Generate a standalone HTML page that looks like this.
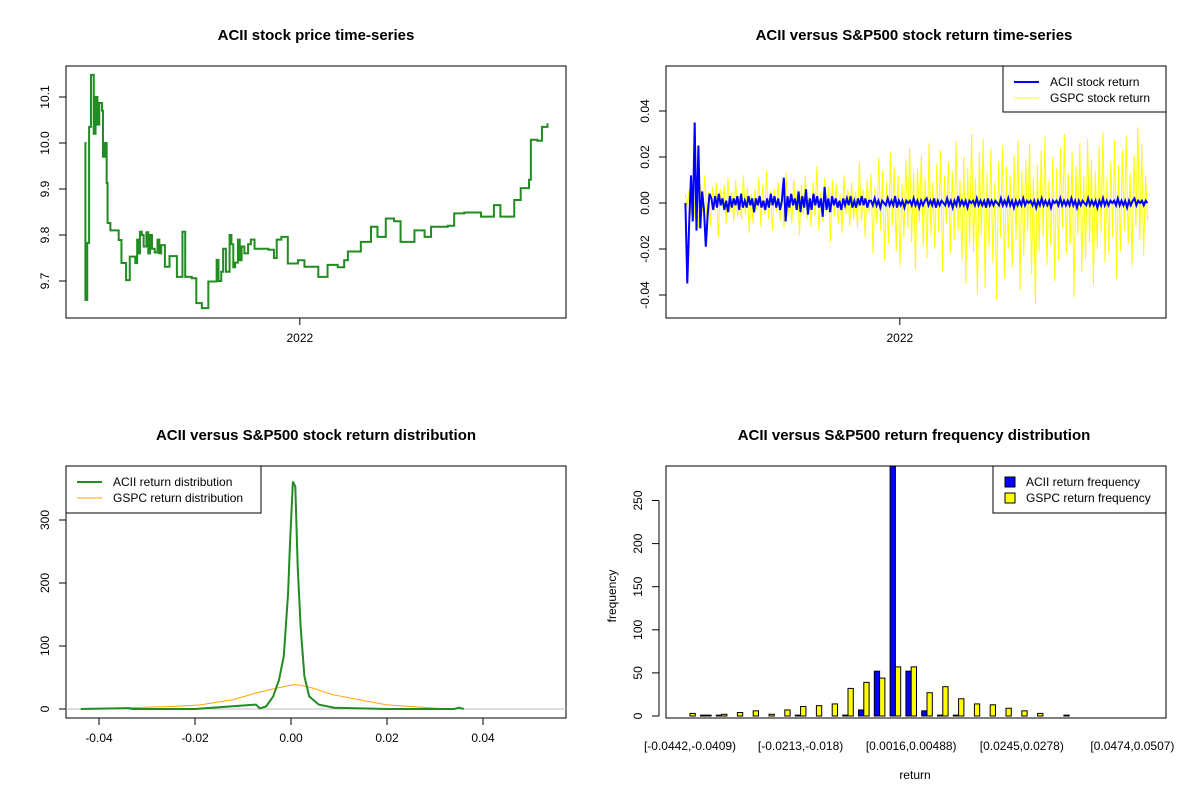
<!DOCTYPE html>
<html><head><meta charset="utf-8"><style>
body{margin:0;background:#fff}
svg{display:block;font-family:"Liberation Sans",Arial,sans-serif}
</style></head><body>
<svg id="c" width="1200" height="800" viewBox="0 0 1200 800" xmlns="http://www.w3.org/2000/svg"></svg>
<script>
// ---- Panel 1: price ----
const priceDays=[0,1,3,5,7,10,12,14,16,19,20,22,24,25,28,30,37,40,45,49,55,57,59,60,62,64,67,69,71,73,76,79,81,83,87,92,100,106,109,116,121,127,134,143,145,148,150,153,157,159,161,163,166,168,170,173,177,180,184,190,199,205,208,213,220,231,238,253,263,274,281,285,299,310,317,326,335,342,357,368,375,393,400,411,429,443,450,465,472,481,483,490,495,501];
const priceVals=[10.0,9.659,9.783,10.035,10.148,10.02,10.1,10.04,10.087,10.07,9.97,10.0,9.913,9.826,9.81,9.81,9.789,9.739,9.702,9.753,9.739,9.79,9.76,9.807,9.80,9.775,9.806,9.76,9.80,9.77,9.762,9.79,9.76,9.778,9.731,9.754,9.709,9.807,9.709,9.706,9.652,9.641,9.699,9.746,9.70,9.72,9.77,9.72,9.80,9.78,9.73,9.74,9.79,9.745,9.775,9.76,9.78,9.79,9.77,9.77,9.768,9.75,9.79,9.796,9.738,9.745,9.731,9.709,9.735,9.73,9.745,9.764,9.785,9.818,9.796,9.836,9.83,9.785,9.81,9.796,9.818,9.82,9.847,9.849,9.84,9.865,9.84,9.876,9.902,9.92,10.007,10.005,10.035,10.043];
const priceTicks=[9.7,9.8,9.9,10.0,10.1];
const priceTickLabels=["9.7","9.8","9.9","10.0","10.1"];
// ---- Panel 2: returns (thousandths) ----
const gspcRet=[4,-2,6,-5,9,-7,3,-11,8,-4,12,-6,5,-10,7,-3,9,-15,6,-2,8,-9,11,-4,5,-8,10,-6,3,-7,
12,-5,7,-13,4,-9,6,-3,11,-10,8,-5,14,-7,5,-12,6,-4,9,-8,
7,-11,13,-6,4,-9,10,-3,6,-14,8,-5,12,-7,3,-10,9,-6,16,-12,
5,-8,11,-4,7,-17,10,-6,8,-9,4,-13,12,-5,6,-10,9,-7,5,-11,
18,-8,6,-15,10,-4,13,-22,7,-9,
20,-12,14,-25,9,-18,22,-10,16,-21,12,-27,8,-15,19,-11,24,-17,13,-29,
15,-8,21,-19,11,-24,26,-14,9,-20,17,-13,23,-30,12,-9,18,-22,14,-16,
27,-12,10,-25,20,-35,15,-18,30,-21,11,-40,22,-14,28,-37,13,-19,24,-26,
9,-42,18,-15,25,-33,16,-20,12,-28,21,-16,27,-38,14,-23,19,-12,26,-31,
11,-44,17,-21,23,-15,29,-27,10,-19,20,-34,15,-25,24,-11,30,-22,13,-18,
22,-41,16,-14,26,-30,12,-24,28,-17,19,-36,14,-20,25,-13,31,-26,11,-22,
18,-15,27,-33,16,-21,23,-12,29,-18,13,-27,21,-10,33,-16,26,-23,12,-8];
const aciiRet=[0,-35,-10,12,-8,35,-12,25,-11,5,-3,-19,-5,4,
2,-3,3,-2,4,-1,2,-3,1,-4,3,-2,2,-1,3,-3,4,-2,1,-2,3,-1,2,-4,2,-1,3,-2,1,-3,2,-2,4,-1,3,-2,2,-3,1,11,-8,3,-2,4,-1,2,-3,5,-4,3,-2,6,-5,2,-3,4,-1,3,-2,2,-6,7,-3,2,-4,3,-1,2,-2,1,-3,2,-1,2,-1,3,-2,1,-2,2,-1,3,-1,2,-2,1,
1,-1,2,-1,1,-2,1,0,-1,2,-1,1,-1,3,-2,1,-1,1,-2,1,0,1,-1,2,-1,1,-2,1,-1,1,
2,-1,1,-1,2,-2,1,-1,1,0,-1,2,-1,1,-2,1,-1,3,-1,1,-1,1,-2,1,0,1,-1,2,-1,1,
-1,1,-2,2,-1,1,-1,1,0,-1,2,-1,1,-1,2,-1,1,-2,1,-1,1,-1,2,-1,1,0,1,-1,1,-2,
1,-1,2,-1,1,-1,1,-2,1,0,1,-1,2,-1,1,-1,1,-1,2,-1,1,-2,1,-1,1,0,-1,2,-1,1,
-1,1,-2,1,-1,2,-1,1,-1,1,0,1,-1,2,-1,1,-1,1,-2,1,-1,1,2,-1,1,0,1,-1,1,0];
const retTicks=[-0.04,-0.02,0,0.02,0.04];
const retTickLabels=["-0.04","-0.02","0.00","0.02","0.04"];
// ---- Panel 3: density ----
const aciiDensX=[-0.0438,-0.034,-0.033,-0.02,-0.0073,-0.0065,-0.0052,-0.0037,-0.0025,-0.0015,-0.0006,-0.0002,0.0004,0.0009,0.0014,0.002,0.0028,0.0038,0.0058,0.009,0.02,0.034,0.035,0.036];
const aciiDensY=[0,1.5,0,0,7,1,4,20,46,84,184,263,361,353,226,131,52,20,7,2,0,0,2,0];
const gspcDensX=[-0.0437,-0.024,-0.0191,-0.0121,-0.008,-0.0038,0.0004,0.0017,0.0045,0.0087,0.0142,0.0198,0.0295,0.033];
const gspcDensY=[0,4.2,6.3,14.8,23.8,31.7,38.6,38.1,33.3,22.7,14.8,6.9,1.6,0];
const densXTicks=[-0.04,-0.02,0,0.02,0.04];
const densXLabels=["-0.04","-0.02","0.00","0.02","0.04"];
const densYTicks=[0,100,200,300];
// ---- Panel 4: histogram ----
const binLabels=["[-0.0442,-0.0409)","[-0.0213,-0.018)","[0.0016,0.00488)","[0.0245,0.0278)","[0.0474,0.0507)"];
const binLabelIdx=[0,7,14,21,28];
const aciiFreq=[0,1,1,0,0,0,0,1,0,0,1,7,52,330,52,6,1,1,0,0,0,0,0,0,1,0,0,0,0];
const gspcFreq=[3,1,2,4,6,2,7,11,12,14,32,39,44,57,57,27,34,20,14,13,9,6,3,0,0,0,0,0,0];
const freqTicks=[0,50,100,150,200,250];

const S=document.getElementById('c');const NS='http://www.w3.org/2000/svg';
function mk(t,a,txt){const e=document.createElementNS(NS,t);for(const k in a)e.setAttribute(k,a[k]);if(txt!==undefined)e.textContent=txt;S.appendChild(e);return e;}
function title(x,y,t,n){const e=mk('text',{x:x,y:y,'text-anchor':'middle','font-size':15,'font-weight':'bold'},t);

}
function box(x0,y0,x1,y1,n){const e=mk('rect',{x:x0,y:y0,width:x1-x0,height:y1-y0,fill:'none',stroke:'#000','stroke-width':1});

}
function yAxis(x,ticks,labels,fy,n){const a=mk('line',{x1:x,x2:x,y1:fy(ticks[0]),y2:fy(ticks[ticks.length-1]),stroke:'#000'});


ticks.forEach((v,i)=>{const y=fy(v);const l=mk('line',{x1:x-7,x2:x,y1:y,y2:y,stroke:'#000'});


const t=mk('text',{x:x-17,y:y,'font-size':12,'text-anchor':'middle',transform:`rotate(-90 ${x-17} ${y})`},labels[i]);

});}
function xAxis(y,ticks,labels,fx,n){const a=mk('line',{x1:fx(ticks[0]),x2:fx(ticks[ticks.length-1]),y1:y,y2:y,stroke:'#000'});


ticks.forEach((v,i)=>{const x=fx(v);const l=mk('line',{x1:x,x2:x,y1:y,y2:y+7,stroke:'#000'});


const t=mk('text',{x:x,y:y+24,'font-size':12,'text-anchor':'middle'},labels[i]);

});}
function stepPath(xs,ys){let d='M'+xs[0]+','+ys[0];for(let i=1;i<xs.length;i++){d+='H'+xs[i]+'V'+ys[i];}return d;}
function linePath(xs,ys){return xs.map((x,i)=>(i?'L':'M')+x.toFixed(1)+','+ys[i].toFixed(1)).join('');}

// Panel 1
const dayX=d=>66+(d+20)/541*500;
const py=v=>281-(v-9.7)*460;
title(316,40,'ACII stock price time-series','price-chart-title');
box(66,66,566,318,'price-plot-frame');
yAxis(66,priceTicks,priceTickLabels,py,'price-y-axis');
xAxis(318,[233],['2022'],dayX,'price-x-axis');
let p=mk('path',{d:stepPath(priceDays.map(dayX),priceVals.map(py)),fill:'none',stroke:'#228b22','stroke-width':2});



// Panel 2
const dayX2=d=>dayX(d)+600;
const ry=v=>203-v*2300;
title(914,40,'ACII versus S&P500 stock return time-series','return-chart-title');
box(666,66,1166,318,'return-plot-frame');
yAxis(666,retTicks,retTickLabels,ry,'return-y-axis');
xAxis(318,[233],['2022'],dayX2,'return-x-axis');
const gx=gspcRet.map((v,i)=>dayX2(1+i*500/(gspcRet.length-1)));
p=mk('path',{d:linePath(gx,gspcRet.map(v=>ry(v/1000))),fill:'none',stroke:'#ffff00','stroke-width':1});


const ax=aciiRet.map((v,i)=>dayX2(1+i*500/(aciiRet.length-1)));
p=mk('path',{d:linePath(ax,aciiRet.map(v=>ry(v/1000))),fill:'none',stroke:'#0000ff','stroke-width':2});


let lg=mk('rect',{x:1003,y:66,width:163,height:46,fill:'#fff',stroke:'#000'});


[['ACII stock return','#0000ff',2,82],['GSPC stock return','#ffff00',1,98]].forEach(r=>{const l=mk('line',{x1:1014,x2:1039,y1:r[3],y2:r[3],stroke:r[1],'stroke-width':r[2]});


const t=mk('text',{x:1050,y:r[3]+4,'font-size':12},r[0]);

});

// Panel 3
const dx=v=>291+v*4800;
const dy=v=>709-v*0.63;
title(316,440,'ACII versus S&P500 stock return distribution','density-chart-title');
box(66,466,566,718,'density-plot-frame');
yAxis(66,densYTicks,densYTicks.map(String),dy,'density-y-axis');
xAxis(718,densXTicks,densXLabels,dx,'density-x-axis');
let zl=mk('line',{x1:66,x2:566,y1:dy(0),y2:dy(0),stroke:'#bebebe'});


p=mk('path',{d:linePath(gspcDensX.map(dx),gspcDensY.map(dy)),fill:'none',stroke:'#ffa500','stroke-width':1});


p=mk('path',{d:linePath(aciiDensX.map(dx),aciiDensY.map(dy)),fill:'none',stroke:'#228b22','stroke-width':2});


lg=mk('rect',{x:66,y:466,width:195,height:47,fill:'#fff',stroke:'#000'});


[['ACII return distribution','#228b22',2,482],['GSPC return distribution','#ffa500',1,498]].forEach(r=>{const l=mk('line',{x1:77,x2:102,y1:r[3],y2:r[3],stroke:r[1],'stroke-width':r[2]});


const t=mk('text',{x:113,y:r[3]+4,'font-size':12},r[0]);

});

// Panel 4
const hy=v=>716-Math.min(v,290)*0.862;
const gc=i=>690+15.8*i;
yAxis(659,freqTicks,freqTicks.map(String),hy,'freq-y-axis');
aciiFreq.forEach((v,i)=>{const b=mk('rect',{x:gc(i)-5.3,y:hy(v),width:5.3,height:716-hy(v),fill:'#0000ff',stroke:'#000','stroke-width':1});

});
gspcFreq.forEach((v,i)=>{const b=mk('rect',{x:gc(i),y:hy(v),width:5.3,height:716-hy(v),fill:'#ffff00',stroke:'#000','stroke-width':1});

});
let wb=mk('rect',{x:0,y:440,width:1200,height:25,fill:'#fff'});


title(914,440,'ACII versus S&P500 return frequency distribution','histogram-chart-title');
box(666,466,1166,718,'histogram-plot-frame');
binLabelIdx.forEach((k,i)=>{const t=mk('text',{x:gc(k),y:750,'font-size':12,'text-anchor':'middle'},binLabels[i]);

});
let at=mk('text',{x:612,y:592,'font-size':12,'text-anchor':'middle',transform:'rotate(-90 616 592)'},'frequency');


at=mk('text',{x:915,y:779,'font-size':12,'text-anchor':'middle'},'return');


lg=mk('rect',{x:993,y:466,width:173,height:47,fill:'#fff',stroke:'#000'});


[['ACII return frequency','#0000ff',482],['GSPC return frequency','#ffff00',498]].forEach(r=>{const s=mk('rect',{x:1005,y:r[2]-5,width:10,height:10,fill:r[1],stroke:'#000'});


const t=mk('text',{x:1026,y:r[2]+4,'font-size':12},r[0]);

});
</script>
</body></html>
